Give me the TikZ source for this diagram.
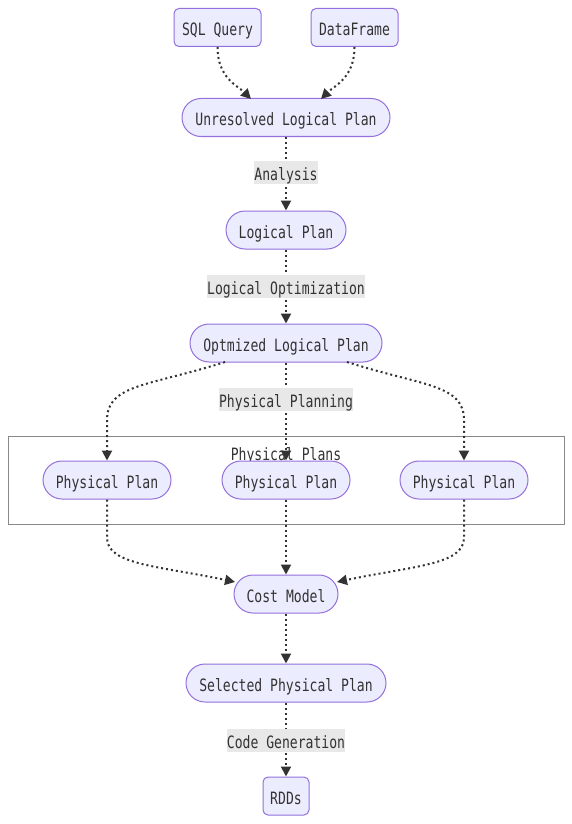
\documentclass[tikz,border=0pt]{standalone}
\usepackage{fontspec}
\newfontfamily\mermono[FakeStretch=0.77]{DejaVu Sans Mono}
\usetikzlibrary{arrows.meta}
\definecolor{nodefill}{HTML}{ECECFF}
\definecolor{nodeborder}{HTML}{9370DB}
\definecolor{txt}{HTML}{333333}
\definecolor{lblbg}{HTML}{E8E8E8}
\definecolor{clus}{HTML}{888888}
\tikzset{
  mfont/.style={font=\mermono\fontsize{17}{19}\selectfont},
  base/.style={draw=nodeborder, fill=nodefill, line width=1pt, text=txt, mfont, minimum height=38pt, inner xsep=0pt, inner ysep=0pt, text height=17pt, text depth=0pt},
  boxnode/.style={base, rounded corners=5pt},
  stadium/.style={base, rounded corners=19pt},
  edge/.style={draw=txt, line width=2pt, dash pattern=on 2pt off 3pt, -{Triangle[length=10pt,width=10pt]}},
  elabel/.style={fill=lblbg, text=txt, mfont, inner xsep=0pt, inner ysep=0pt, minimum height=23pt, text height=15pt, text depth=0pt},
}
\begin{document}
\begin{tikzpicture}[x=1pt,y=-1pt]
\useasboundingbox[fill=white] (0,0) rectangle (572,824);
% cluster
\draw[clus, line width=1pt] (8,436) rectangle (564,524);
\node[text=txt, mfont, inner sep=0pt, text height=15pt, text depth=0pt, minimum height=23pt] (cl) at (286,453) {Physical Plans};
% nodes
\node[boxnode, minimum width=87pt] (sql) at (217.5,27.5) {SQL Query};
\node[boxnode, minimum width=87pt] (df) at (354.5,27.5) {DataFrame};
\node[stadium, minimum width=208pt] (unres) at (286,117.5) {Unresolved Logical Plan};
\node[stadium, minimum width=120pt] (lp) at (286,230) {Logical Plan};
\node[stadium, minimum width=192pt] (opt) at (286,343) {Optmized Logical Plan};
\node[stadium, minimum width=128pt] (pp1) at (107,480) {Physical Plan};
\node[stadium, minimum width=128pt] (pp2) at (286,480) {Physical Plan};
\node[stadium, minimum width=128pt] (pp3) at (464,480) {Physical Plan};
\node[stadium, minimum width=104pt] (cost) at (286,594) {Cost Model};
\node[stadium, minimum width=200pt] (sel) at (286,683) {Selected Physical Plan};
\node[boxnode, minimum width=46pt] (rdd) at (286,796) {RDDs};
% coordinates
\coordinate (u1) at (251,99);
\coordinate (u2) at (321,99);
\coordinate (o1) at (225,362);
\coordinate (o3) at (347,362);
\coordinate (c1) at (235,582);
\coordinate (c3) at (337,582);
% edges
\draw[edge] (sql.south) .. controls (217.5,78) and (238,86) .. (u1);
\draw[edge] (df.south) .. controls (354.5,78) and (334,86) .. (u2);
\draw[edge] (unres.south) -- (lp.north);
\draw[edge] (lp.south) -- (opt.north);
\draw[edge] (o1) .. controls (150,386) and (107,384) .. (107,420) -- (pp1.north);
\draw[edge] (opt.south) -- (pp2.north);
\draw[edge] (o3) .. controls (422,386) and (464,384) .. (464,420) -- (pp3.north);
\draw[edge] (pp1.south) -- (107,538) .. controls (107,565) and (160,566) .. (c1);
\draw[edge] (pp2.south) -- (cost.north);
\draw[edge] (pp3.south) -- (464,538) .. controls (464,565) and (412,566) .. (c3);
\draw[edge] (cost.south) -- (sel.north);
\draw[edge] (sel.south) -- (rdd.north);
% edge labels
\node[elabel] (la) at (286,172.5) {Analysis};
\node[elabel] (lb) at (286,286.5) {Logical Optimization};
\node[elabel] (lc) at (286,399.5) {Physical Planning};
\node[elabel] (ld) at (286,740.5) {Code Generation};
\end{tikzpicture}
\end{document}
